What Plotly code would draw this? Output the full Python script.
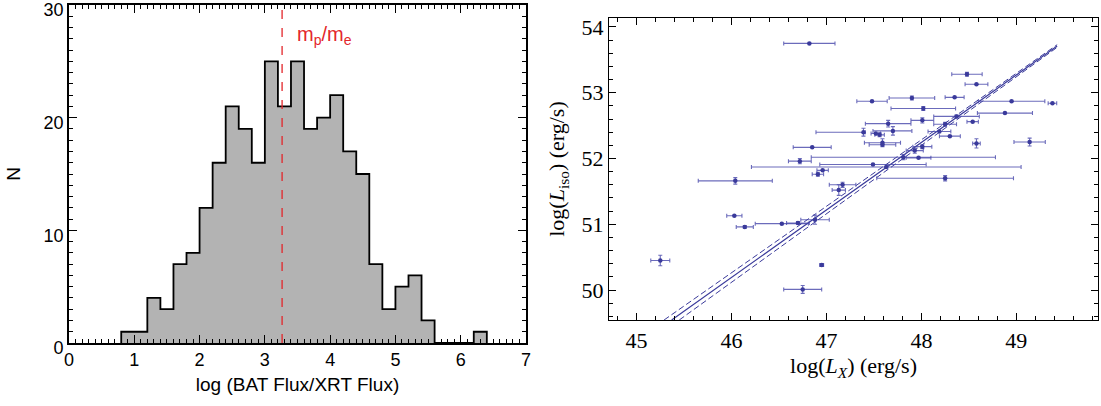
"""Two-panel figure: BAT/XRT flux-ratio histogram and L_iso vs L_X scatter."""

import plotly.graph_objects as go

# --------------------------------------------------------------------------- #
# Data
# --------------------------------------------------------------------------- #
# Histogram of log(BAT flux / XRT flux), bin width 0.2
bin_edges = [0.8, 1.0, 1.2, 1.4, 1.6, 1.8, 2.0, 2.2, 2.4, 2.6, 2.8, 3.0, 3.2, 3.4,
             3.6, 3.8, 4.0, 4.2, 4.4, 4.6, 4.8, 5.0, 5.2, 5.4, 5.6, 5.8, 6.0, 6.2, 6.4]
counts = [1, 1, 4, 3, 7, 8, 12, 16, 21, 19, 16, 25, 21, 25,
          19, 20, 22, 17, 15, 7, 3, 5, 6, 2, 0, 0, 0, 1]
mp_me = 3.264  # log10(m_p / m_e)

# Scatter: log(L_X) vs log(L_iso) with errors
lx = [46.82, 48.48, 48.58, 47.48, 47.90, 48.35, 48.95, 49.38, 48.02, 48.88,
      48.37, 48.01, 47.65, 48.25, 48.54, 47.39, 47.70, 47.52, 47.56, 47.59,
      47.59, 46.85, 47.81, 46.72, 47.49, 47.63, 46.96, 46.91, 46.04, 47.17,
      47.13, 48.25, 48.01, 47.93, 47.97, 48.30, 48.58, 49.14, 48.19, 46.03,
      46.14, 46.53, 46.70, 46.88, 45.25, 46.95, 46.75]
liso = [53.75, 53.28, 53.13, 52.87, 52.92, 52.93, 52.87, 52.84, 52.76, 52.69,
        52.64, 52.58, 52.53, 52.52, 52.56, 52.40, 52.42, 52.38, 52.36, 52.24,
        52.21, 52.17, 52.02, 51.96, 51.91, 51.87, 51.82, 51.76, 51.66, 51.60,
        51.52, 51.70, 52.18, 52.12, 52.01, 52.34, 52.23, 52.25, 52.41, 51.13,
        50.96, 51.01, 51.02, 51.07, 50.45, 50.38, 50.01]
lx_err_lo = [0.27, 0.16, 0.12, 0.16, 0.24, 0.10, 0.35, 0.045, 0.34, 0.29,
             0.24, 0.12, 0.24, 0.12, 0.06, 0.50, 0.21, 0.05, 0.05, 0.19,
             0.14, 0.20, 0.97, 0.12, 0.56, 1.42, 0.06, 0.06, 0.39, 0.14,
             0.07, 0.72, 0.10, 0.09, 0.13, 0.11, 0.04, 0.165, 0.12, 0.08,
             0.09, 0.28, 0.12, 0.15, 0.10, 0.02, 0.20]
lx_err_hi = [0.27, 0.16, 0.12, 0.16, 0.24, 0.10, 0.35, 0.045, 0.34, 0.29,
             0.24, 0.12, 0.24, 0.12, 0.06, 0.02, 0.20, 0.05, 0.05, 0.19,
             0.14, 0.20, 0.97, 0.12, 0.56, 1.42, 0.06, 0.06, 0.39, 0.14,
             0.07, 0.72, 0.10, 0.09, 0.13, 0.11, 0.04, 0.165, 0.12, 0.08,
             0.09, 0.28, 0.12, 0.15, 0.10, 0.02, 0.20]
liso_err = [0.0, 0.03, 0.0, 0.0, 0.03, 0.0, 0.0, 0.0, 0.03, 0.0,
            0.02, 0.04, 0.05, 0.03, 0.0, 0.06, 0.065, 0.0, 0.03, 0.06,
            0.0, 0.0, 0.04, 0.04, 0.0, 0.0, 0.0, 0.03, 0.05, 0.04,
            0.08, 0.04, 0.03, 0.04, 0.0, 0.0, 0.07, 0.06, 0.0, 0.0,
            0.02, 0.0, 0.02, 0.07, 0.08, 0.02, 0.06]

# Best fit and its confidence bounds (end points)
fit_x = [45.37, 49.43]
fit_y = [49.545, 53.71]
fit_lo_x = [45.45, 49.43]
fit_lo_y = [49.545, 53.69]
fit_hi_x = [45.29, 49.43]
fit_hi_y = [49.545, 53.73]

# --------------------------------------------------------------------------- #
# Style
# --------------------------------------------------------------------------- #
W, H = 1101, 406
GRAY = "#b3b3b3"
RED = "#e3262b"
BLUE = "rgb(58,58,155)"
BLUE_ERR = "rgba(70,70,170,0.8)"
SANS = "Liberation Sans, Arial, sans-serif"
SERIF = "Liberation Serif, Times New Roman, serif"

fig = go.Figure()

# Left: histogram drawn as a filled step outline
fig.add_trace(
    go.Scatter(
        x=[bin_edges[0]] + bin_edges,
        y=[0] + counts + [0],
        mode="lines",
        line=dict(shape="hv", color="black", width=1.8),
        fill="tozeroy",
        fillcolor=GRAY,
        xaxis="x",
        yaxis="y",
        showlegend=False,
    )
)
fig.add_trace(
    go.Scatter(
        x=[mp_me, mp_me],
        y=[0, 30],
        mode="lines",
        line=dict(color=RED, width=1.3, dash="dash"),
        xaxis="x",
        yaxis="y",
        showlegend=False,
    )
)
fig.add_annotation(
    text="m<sub>p</sub>/m<sub>e</sub>",
    x=mp_me + 0.2,
    y=27.3,
    xref="x",
    yref="y",
    xanchor="left",
    yanchor="middle",
    showarrow=False,
    font=dict(family=SANS, size=20, color=RED),
)

# Right: fit lines
fig.add_trace(
    go.Scatter(x=fit_x, y=fit_y, mode="lines", line=dict(color=BLUE, width=1.2),
               xaxis="x2", yaxis="y2", showlegend=False)
)
for fx, fy in [(fit_lo_x, fit_lo_y), (fit_hi_x, fit_hi_y)]:
    fig.add_trace(
        go.Scatter(x=fx, y=fy, mode="lines",
                   line=dict(color=BLUE, width=1, dash="6px,3px"),
                   xaxis="x2", yaxis="y2", showlegend=False)
    )

# Right: data points with error bars
fig.add_trace(
    go.Scatter(
        x=lx,
        y=liso,
        mode="markers",
        marker=dict(color=BLUE, size=4.5),
        error_x=dict(type="data", symmetric=False, array=lx_err_hi,
                     arrayminus=lx_err_lo, color=BLUE_ERR, thickness=1.1, width=2),
        error_y=dict(type="data", array=liso_err, color=BLUE_ERR,
                     thickness=1.1, width=2),
        xaxis="x2",
        yaxis="y2",
        showlegend=False,
    )
)

common = dict(showline=True, linecolor="black", mirror="ticks", ticks="inside",
              showgrid=False, zeroline=False, automargin=False,
              ticklabeloverflow="allow")

fig.update_layout(
    width=W,
    height=H,
    margin=dict(l=0, r=0, t=0, b=0),
    paper_bgcolor="white",
    plot_bgcolor="white",
    xaxis=dict(
        domain=[69 / W, 526 / W],
        range=[0, 7],
        dtick=1,
        ticklen=8,
        linewidth=1.6,
        tickwidth=1.3,
        tickcolor="black",
        minor=dict(dtick=0.1, ticklen=4, ticks="inside", tickcolor="black"),
        tickfont=dict(family=SANS, size=18, color="black"),
        title=dict(text="log (BAT Flux/XRT Flux)",
                   font=dict(family=SANS, size=19, color="black"), standoff=8),
        anchor="y",
        **common,
    ),
    yaxis=dict(
        domain=[(H - 343) / H, (H - 5) / H],
        range=[0, 30],
        dtick=10,
        ticklen=8,
        linewidth=1.6,
        tickwidth=1.3,
        tickcolor="black",
        ticklabelshift=5,
        minor=dict(dtick=1, ticklen=4, ticks="inside", tickcolor="black"),
        tickfont=dict(family=SANS, size=18, color="black"),
        title=dict(text="N", font=dict(family=SANS, size=19, color="black"),
                   standoff=18),
        anchor="x",
        **common,
    ),
    xaxis2=dict(
        domain=[609 / W, 1098 / W],
        range=[44.71, 49.86],
        dtick=1,
        ticklen=7,
        linewidth=1.2,
        tickcolor="black",
        minor=dict(dtick=0.2, ticklen=4, ticks="inside", tickcolor="black"),
        tickfont=dict(family=SERIF, size=22, color="black"),
        title=dict(text="log(<i>L<sub>X</sub></i>) (erg/s)",
                   font=dict(family=SERIF, size=22, color="black"), standoff=6),
        anchor="y2",
        **common,
    ),
    yaxis2=dict(
        domain=[(H - 320) / H, (H - 18) / H],
        range=[49.545, 54.136],
        dtick=1,
        ticklen=7,
        linewidth=1.2,
        tickcolor="black",
        minor=dict(dtick=0.2, ticklen=4, ticks="inside", tickcolor="black"),
        tickfont=dict(family=SERIF, size=22, color="black"),
        title=dict(text="log(<i>L</i><sub>iso</sub>) (erg/s)",
                   font=dict(family=SERIF, size=22, color="black"), standoff=10),
        anchor="x2",
        **common,
    ),
)

# drop the default 8px page margin so the figure sits at the window origin
fig.write_html(
    "out.html",
    config={"displayModeBar": False},
    post_script="document.body.style.margin = '0';",
)
